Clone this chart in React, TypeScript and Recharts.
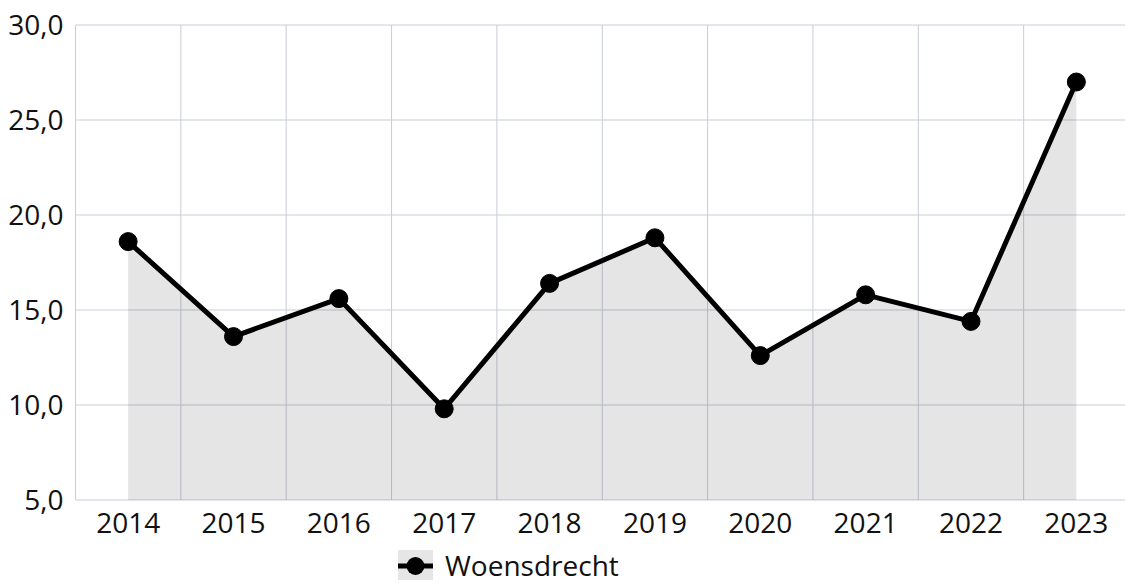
import React from "react";
import {
  ComposedChart,
  Area,
  Line,
  XAxis,
  YAxis,
  CartesianGrid,
  Legend,
} from "recharts";

const years = ["2014", "2015", "2016", "2017", "2018", "2019", "2020", "2021", "2022", "2023"];
const woensdrecht = [18.6, 13.6, 15.6, 9.8, 16.4, 18.8, 12.6, 15.8, 14.4, 27.0];
const yTicks = [5, 10, 15, 20, 25, 30];

const data = years.map((year, i) => ({ year, value: woensdrecht[i] }));

const FONT = "'Open Sans', 'Noto Sans', sans-serif";
const fmt = (v: number) => v.toFixed(1).replace(".", ",");

function LegendContent() {
  return (
    <div
      style={{
        display: "flex",
        justifyContent: "flex-start",
        alignItems: "center",
        height: 32,
        paddingTop: 9,
        paddingLeft: 398,
        fontFamily: FONT,
        fontSize: 28,
        color: "#111",
      }}
    >
      <svg width={35} height={30} style={{ marginRight: 12, flex: "none" }}>
        <rect x={0} y={0} width={35} height={30} fill="#e6e6e6" />
        <line x1={0} y1={16} x2={35} y2={16} stroke="#000" strokeWidth={5} />
        <circle cx={17.5} cy={16} r={9} fill="#000" />
      </svg>
      <span style={{ lineHeight: "28px" }}>Woensdrecht</span>
    </div>
  );
}

export default function App() {
  return (
    <div
      style={{
        position: "fixed",
        left: 0,
        top: 0,
        width: 1125,
        height: 586,
        overflow: "hidden",
        background: "#fff",
      }}
    >
      <ComposedChart
        width={1129}
        height={586}
        data={data}
        margin={{ top: 25, right: 0, bottom: 0, left: 0 }}
      >
        <CartesianGrid
          stroke="#c8cdd8"
          strokeWidth={1}
          verticalCoordinatesGenerator={({ offset }: any) =>
            Array.from({ length: 11 }, (_, i) => offset.left + (i * offset.width) / 10)
          }
        />
        <XAxis
          dataKey="year"
          padding={{ left: 52.65, right: 52.65 }}
          axisLine={false}
          tickLine={false}
          tickMargin={7}
          height={40}
          tick={{ fill: "#111", fontSize: 28, fontFamily: FONT }}
        />
        <YAxis
          domain={[5, 30]}
          ticks={yTicks}
          tickFormatter={fmt}
          width={75.5}
          axisLine={false}
          tickLine={false}
          tickMargin={6}
          tick={{ fill: "#111", fontSize: 28, fontFamily: FONT }}
        />
        <Legend verticalAlign="bottom" height={46} content={<LegendContent />} />
        <Area
          type="linear"
          dataKey="value"
          fill="#000"
          fillOpacity={0.1}
          stroke="none"
          isAnimationActive={false}
          legendType="none"
        />
        <Line
          type="linear"
          dataKey="value"
          stroke="#000"
          strokeWidth={5}
          dot={{ r: 9, fill: "#000", stroke: "#000", strokeWidth: 1 }}
          activeDot={false}
          isAnimationActive={false}
        />
      </ComposedChart>
    </div>
  );
}
